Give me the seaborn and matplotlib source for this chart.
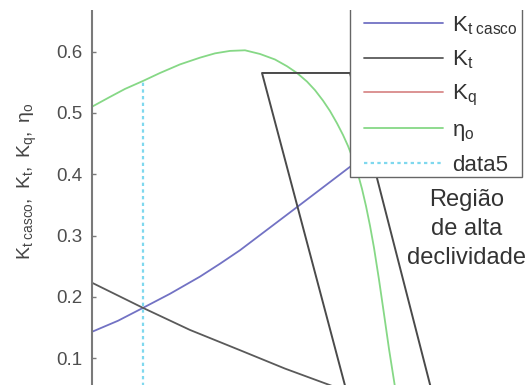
import matplotlib
matplotlib.use("Agg")
import matplotlib.pyplot as plt
from matplotlib.patches import Rectangle
import seaborn as sns

# advance coefficient samples and the coefficient curves
j_kt_casco = [0.200, 0.226, 0.251, 0.278, 0.308, 0.328, 0.348, 0.378, 0.408,
              0.433, 0.458, 0.508]
kt_casco = [0.143, 0.161, 0.182, 0.205, 0.233, 0.254, 0.276, 0.313, 0.350,
            0.381, 0.412, 0.475]

j_kt = [0.200, 0.251, 0.298, 0.348, 0.393, 0.438, 0.508]
kt = [0.223, 0.182, 0.146, 0.113, 0.083, 0.056, 0.012]

j_kq = [0.200, 0.300, 0.400, 0.500]
kq = [0.030, 0.027, 0.022, 0.015]

j_eta = [0.200, 0.218, 0.233, 0.251, 0.268, 0.288, 0.308, 0.323, 0.338, 0.353,
         0.368, 0.383, 0.395, 0.405, 0.415, 0.423, 0.431, 0.438, 0.445, 0.451,
         0.456, 0.461, 0.466, 0.470, 0.474, 0.478, 0.482, 0.487, 0.492, 0.497,
         0.503, 0.508]
eta = [0.510, 0.526, 0.539, 0.552, 0.565, 0.579, 0.590, 0.597, 0.601, 0.602,
       0.596, 0.587, 0.576, 0.565, 0.551, 0.537, 0.520, 0.503, 0.483, 0.464,
       0.446, 0.425, 0.400, 0.376, 0.348, 0.316, 0.280, 0.228, 0.172, 0.115,
       0.053, 0.000]

# operating point marker (data5)
j_op = [0.251, 0.251]
y_op = [0.0, 0.552]

# outline of the steep region
reg_j = [0.462, 0.370, 0.458, 0.547]
reg_y = [0.000, 0.565, 0.565, 0.000]

labels = [r"$K_{t\ casco}$", r"$K_t$", r"$K_q$", r"$\eta_o$", "data5"]
yticks = [0.1, 0.2, 0.3, 0.4, 0.5, 0.6]

sns.set_style("white")
plt.rcParams["font.family"] = ["Liberation Sans", "DejaVu Sans"]
plt.rcParams["mathtext.fontset"] = "custom"
plt.rcParams["mathtext.rm"] = "Liberation Sans"
plt.rcParams["mathtext.it"] = "Liberation Sans"
plt.rcParams["mathtext.default"] = "regular"

W, H = 525, 385
fig = plt.figure(figsize=(W / 100, H / 100), dpi=100)
ax = fig.add_axes([92 / W, (385 - 419.5) / H, 450 / W, 0.7 * 613.3 / H])

lw = 1.3
common = dict(ax=ax, sort=False, estimator=None)
sns.lineplot(x=j_kt_casco, y=kt_casco, color="#7272c4", lw=lw, label=labels[0], **common)
sns.lineplot(x=j_kt, y=kt, color="#5a5a5a", lw=lw, label=labels[1], **common)
sns.lineplot(x=j_kq, y=kq, color="#d98a8a", lw=lw, label=labels[2], **common)
sns.lineplot(x=j_eta, y=eta, color="#86d886", lw=lw, label=labels[3], **common)
sns.lineplot(x=j_op, y=y_op, color="#7fd8ee", lw=1.6, ls=(0, (1.5, 1.5)), label=labels[4], **common)
ax.plot(reg_j, reg_y, color="#4a4a4a", lw=1.4)

ax.set_xlim(0.2, 0.65)
ax.set_ylim(0, 0.7)
ax.set_yticks(yticks)
ax.set_yticklabels([f"{v:.1f}" for v in yticks])
ax.set_xticks([])
for s in ["top", "right", "bottom"]:
    ax.spines[s].set_visible(False)
ax.spines["left"].set_color("#7a7a7a")
ax.spines["left"].set_linewidth(1.5)
ax.tick_params(axis="y", direction="in", length=3, width=1, color="#7a7a7a",
               labelsize=13.5, labelcolor="#4e4e4e", pad=7, left=True)

ax.set_ylabel(r"$K_{t\ casco},\ K_t,\ K_q,\ \eta_o$", fontsize=14, color="#444444", va="center")
ax.yaxis.set_label_coords((27 - 92) / 450, (419.5 - 181) / 429.3)

# legend box drawn separately so its edges sit where wanted
ax.add_patch(Rectangle((350 / W, 1 - 177 / H), 172 / W, 190 / H, transform=fig.transFigure,
                       facecolor="white", edgecolor="#666666", lw=1.0, zorder=4, clip_on=False))
leg = ax.legend(loc="lower left", bbox_to_anchor=(350 / W, 1 - 190 / H),
                bbox_transform=fig.transFigure, borderaxespad=0, fontsize=16,
                handlelength=3.55, handletextpad=0.4, borderpad=0.65,
                labelspacing=0.53, frameon=False)
for t in leg.get_texts():
    t.set_color("#333333")
leg.set_zorder(5)

fig.text(467 / W, 1 - 229 / H, "Região\nde alta\ndeclividade", ha="center", va="center",
         multialignment="center", fontsize=17, color="#333333", linespacing=1.4)

fig.add_artist(Rectangle((0, 1 - 10 / H), 1, 10 / H, transform=fig.transFigure,
                         facecolor="white", edgecolor="none", zorder=20))

fig.savefig("out.png", dpi=100)
